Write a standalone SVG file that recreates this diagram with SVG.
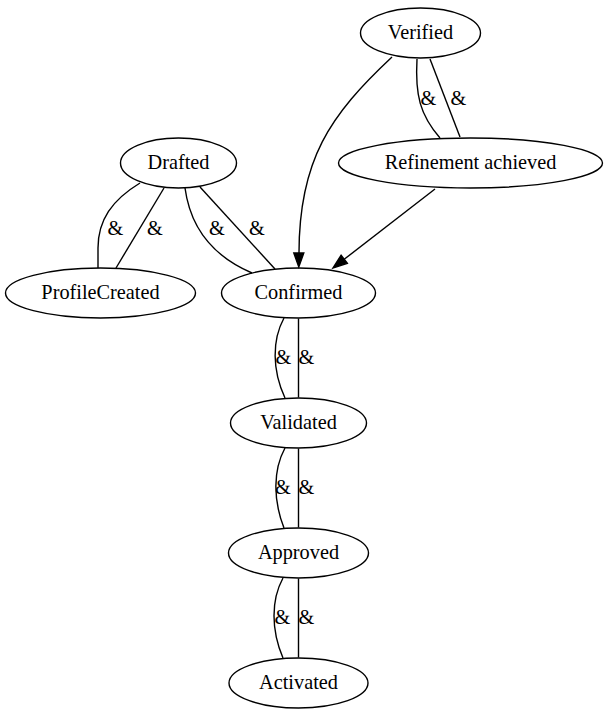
<svg xmlns="http://www.w3.org/2000/svg" width="609" height="716" viewBox="0 0 609 716">
<style>
.node ellipse{fill:none;stroke:#000;stroke-width:1.4}
.node text,.lbl{font-family:"Liberation Serif","Times New Roman",serif;font-size:20.3px;fill:#000;text-anchor:middle}
.edge{fill:none;stroke:#000;stroke-width:1.4}
.head{fill:#000;stroke:#000;stroke-width:1.4}
</style>
<rect width="609" height="716" fill="#fff"/>
<g id="connectors">
<path class="edge" d="M417,59 C415,95 420,115 440,138"/>
<path class="edge" d="M430,59 L460,137"/>
<text class="lbl" x="428.5" y="105">&amp;</text>
<text class="lbl" x="458.5" y="105">&amp;</text>
<path class="edge" d="M392,57 C330,115 299,160 299,253"/>
<polygon class="head" points="293.8,253 303.8,253 298.8,267"/>
<path class="edge" d="M435,189 L344.2,259.3"/>
<polygon class="head" points="347.3,263.3 341.1,255.3 333,268"/>
<path class="edge" d="M140,183 C112,200 98,220 98,248 L98,268"/>
<path class="edge" d="M164,188 L116,268"/>
<text class="lbl" x="115.5" y="235">&amp;</text>
<text class="lbl" x="155" y="235">&amp;</text>
<path class="edge" d="M185,188 C190,225 210,255 252,273"/>
<path class="edge" d="M200,187 L275,269"/>
<text class="lbl" x="217" y="235">&amp;</text>
<text class="lbl" x="257" y="235">&amp;</text>
<path class="edge" d="M284,318 C272,340 272,370 285,398"/>
<path class="edge" d="M298.5,318.5 L298.5,397.5"/>
<text class="lbl" x="283.5" y="364">&amp;</text>
<text class="lbl" x="306.5" y="364">&amp;</text>
<path class="edge" d="M285,448 C273,470 273,500 284,528"/>
<path class="edge" d="M298.5,448.5 L298.5,527.5"/>
<text class="lbl" x="283" y="494">&amp;</text>
<text class="lbl" x="306.5" y="494">&amp;</text>
<path class="edge" d="M283,578 C271,600 271,630 283,658"/>
<path class="edge" d="M298.5,578.5 L298.5,657.5"/>
<text class="lbl" x="282.5" y="624">&amp;</text>
<text class="lbl" x="306.5" y="624">&amp;</text>
</g>
<g id="Verified" class="node"><ellipse cx="420.5" cy="33" rx="60" ry="25"/><text x="420.5" y="39">Verified</text></g>
<g id="RefinementAchieved" class="node"><ellipse cx="470.5" cy="163" rx="132" ry="25"/><text x="470.5" y="169">Refinement achieved</text></g>
<g id="Drafted" class="node"><ellipse cx="178.5" cy="163" rx="58" ry="25"/><text x="178.5" y="169">Drafted</text></g>
<g id="ProfileCreated" class="node"><ellipse cx="100.5" cy="293" rx="95" ry="25"/><text x="100.5" y="299">ProfileCreated</text></g>
<g id="Confirmed" class="node"><ellipse cx="298.5" cy="293" rx="77" ry="25"/><text x="298.5" y="299">Confirmed</text></g>
<g id="Validated" class="node"><ellipse cx="298.5" cy="423" rx="68" ry="25"/><text x="298.5" y="429">Validated</text></g>
<g id="Approved" class="node"><ellipse cx="298.5" cy="553" rx="70" ry="25"/><text x="298.5" y="559">Approved</text></g>
<g id="Activated" class="node"><ellipse cx="298.5" cy="683" rx="69.5" ry="25"/><text x="298.5" y="689">Activated</text></g>
</svg>
